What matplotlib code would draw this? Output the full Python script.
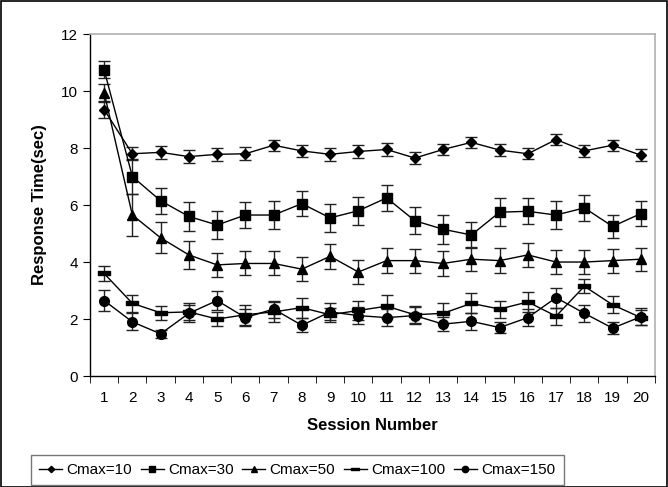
import matplotlib
matplotlib.use("Agg")
import matplotlib.pyplot as plt
from matplotlib.path import Path
from matplotlib.patches import Rectangle
from matplotlib.lines import Line2D
import numpy as np

plt.rcParams['font.family'] = ['Liberation Sans', 'DejaVu Sans']

sessions = list(range(1, 21))
series_labels = ["Cmax=10", "Cmax=30", "Cmax=50", "Cmax=100", "Cmax=150"]

cmax10 = [9.35, 7.8, 7.85, 7.7, 7.78, 7.8, 8.1, 7.9, 7.78, 7.88, 7.95, 7.65, 7.95, 8.2, 7.93, 7.8, 8.3, 7.9, 8.1, 7.75]
cmax10_err = [0.28, 0.22, 0.22, 0.22, 0.22, 0.22, 0.2, 0.2, 0.22, 0.22, 0.22, 0.22, 0.2, 0.2, 0.2, 0.2, 0.2, 0.2, 0.2, 0.2]

cmax30 = [10.75, 7.0, 6.15, 5.6, 5.3, 5.65, 5.65, 6.05, 5.55, 5.8, 6.25, 5.45, 5.15, 4.95, 5.75, 5.78, 5.65, 5.9, 5.25, 5.7]
cmax30_err = [0.3, 0.6, 0.45, 0.5, 0.48, 0.45, 0.48, 0.45, 0.48, 0.5, 0.45, 0.48, 0.5, 0.45, 0.5, 0.45, 0.48, 0.45, 0.4, 0.45]

cmax50 = [9.95, 5.65, 4.85, 4.25, 3.9, 3.95, 3.95, 3.75, 4.2, 3.65, 4.05, 4.05, 3.95, 4.1, 4.05, 4.25, 4.0, 4.0, 4.05, 4.1]
cmax50_err = [0.3, 0.75, 0.55, 0.5, 0.42, 0.42, 0.42, 0.42, 0.45, 0.42, 0.45, 0.42, 0.45, 0.42, 0.45, 0.42, 0.42, 0.42, 0.42, 0.4]

cmax100 = [3.6, 2.55, 2.22, 2.25, 2.0, 2.15, 2.25, 2.4, 2.15, 2.3, 2.45, 2.15, 2.2, 2.55, 2.35, 2.6, 2.1, 3.15, 2.5, 2.05]
cmax100_err = [0.25, 0.3, 0.25, 0.3, 0.25, 0.35, 0.35, 0.35, 0.25, 0.35, 0.4, 0.3, 0.35, 0.35, 0.3, 0.35, 0.3, 0.25, 0.3, 0.25]

cmax150 = [2.65, 1.9, 1.48, 2.2, 2.65, 2.05, 2.35, 1.78, 2.25, 2.12, 2.05, 2.12, 1.82, 1.92, 1.7, 2.05, 2.75, 2.2, 1.68, 2.08]
cmax150_err = [0.38, 0.3, 0.15, 0.3, 0.35, 0.3, 0.3, 0.25, 0.3, 0.3, 0.3, 0.3, 0.25, 0.3, 0.2, 0.3, 0.35, 0.3, 0.2, 0.3]

values = [cmax10, cmax30, cmax50, cmax100, cmax150]
errors = [cmax10_err, cmax30_err, cmax50_err, cmax100_err, cmax150_err]

bar_marker = Path([(-1, -0.4), (1, -0.4), (1, 0.4), (-1, 0.4), (-1, -0.4)],
                  [Path.MOVETO, Path.LINETO, Path.LINETO, Path.LINETO, Path.CLOSEPOLY])
markers = ['D', 's', '^', bar_marker, 'o']
msizes = [5, 7, 6.5, 8, 7]

fig = plt.figure(figsize=(6.68, 4.87), dpi=100)
ax = fig.add_axes([0.1347, 0.2279, 0.8458, 0.7021])

for vals, errs, mk, ms, lab in zip(values, errors, markers, msizes, series_labels):
    ax.errorbar(sessions, vals, yerr=errs, color='black', ecolor='#222222',
                elinewidth=1, capsize=4, capthick=1, linewidth=1,
                marker=mk, markersize=ms, markerfacecolor='black',
                markeredgecolor='black', label=lab)

ax.set_xlim(0.5, 20.5)
ax.set_ylim(0, 12)
ax.set_yticks(range(0, 13, 2))
ax.set_xticks(sessions)
ax.set_xticks(np.arange(0.5, 21, 1), minor=True)
ax.tick_params(axis='x', which='major', length=0, labelsize=11, pad=11)
ax.tick_params(axis='x', which='minor', length=5, direction='out')
ax.tick_params(axis='y', length=5, direction='out', labelsize=11)

for s in ['top', 'right']:
    ax.spines[s].set_color('#b0b0b0')
    ax.spines[s].set_linewidth(1.2)
for s in ['left', 'bottom']:
    ax.spines[s].set_color('black')
    ax.spines[s].set_linewidth(1)

ax.set_xlabel("Session Number", fontsize=12, fontweight='bold', labelpad=9)
ax.set_ylabel("Response Time(sec)", fontsize=12, fontweight='bold', labelpad=10)

handles = [Line2D([], [], color='black', linewidth=1, marker=mk, markersize=ms * 0.65,
                  markerfacecolor='black', markeredgecolor='black')
           for mk, ms in zip(markers, msizes)]
leg = fig.legend(handles, series_labels, loc='center', bbox_to_anchor=(0.445, 0.035), ncol=5,
                 frameon=True, fancybox=False, edgecolor='#555555', fontsize=11,
                 handlelength=1.5, handletextpad=0.3, columnspacing=0.55,
                 borderpad=0.55, borderaxespad=0)
leg.get_frame().set_linewidth(1)

fig.patches.append(Rectangle((0.001, 0.001), 0.997, 0.997, transform=fig.transFigure,
                             fill=False, edgecolor='black', linewidth=1.2))

fig.savefig("out.png", dpi=100)
